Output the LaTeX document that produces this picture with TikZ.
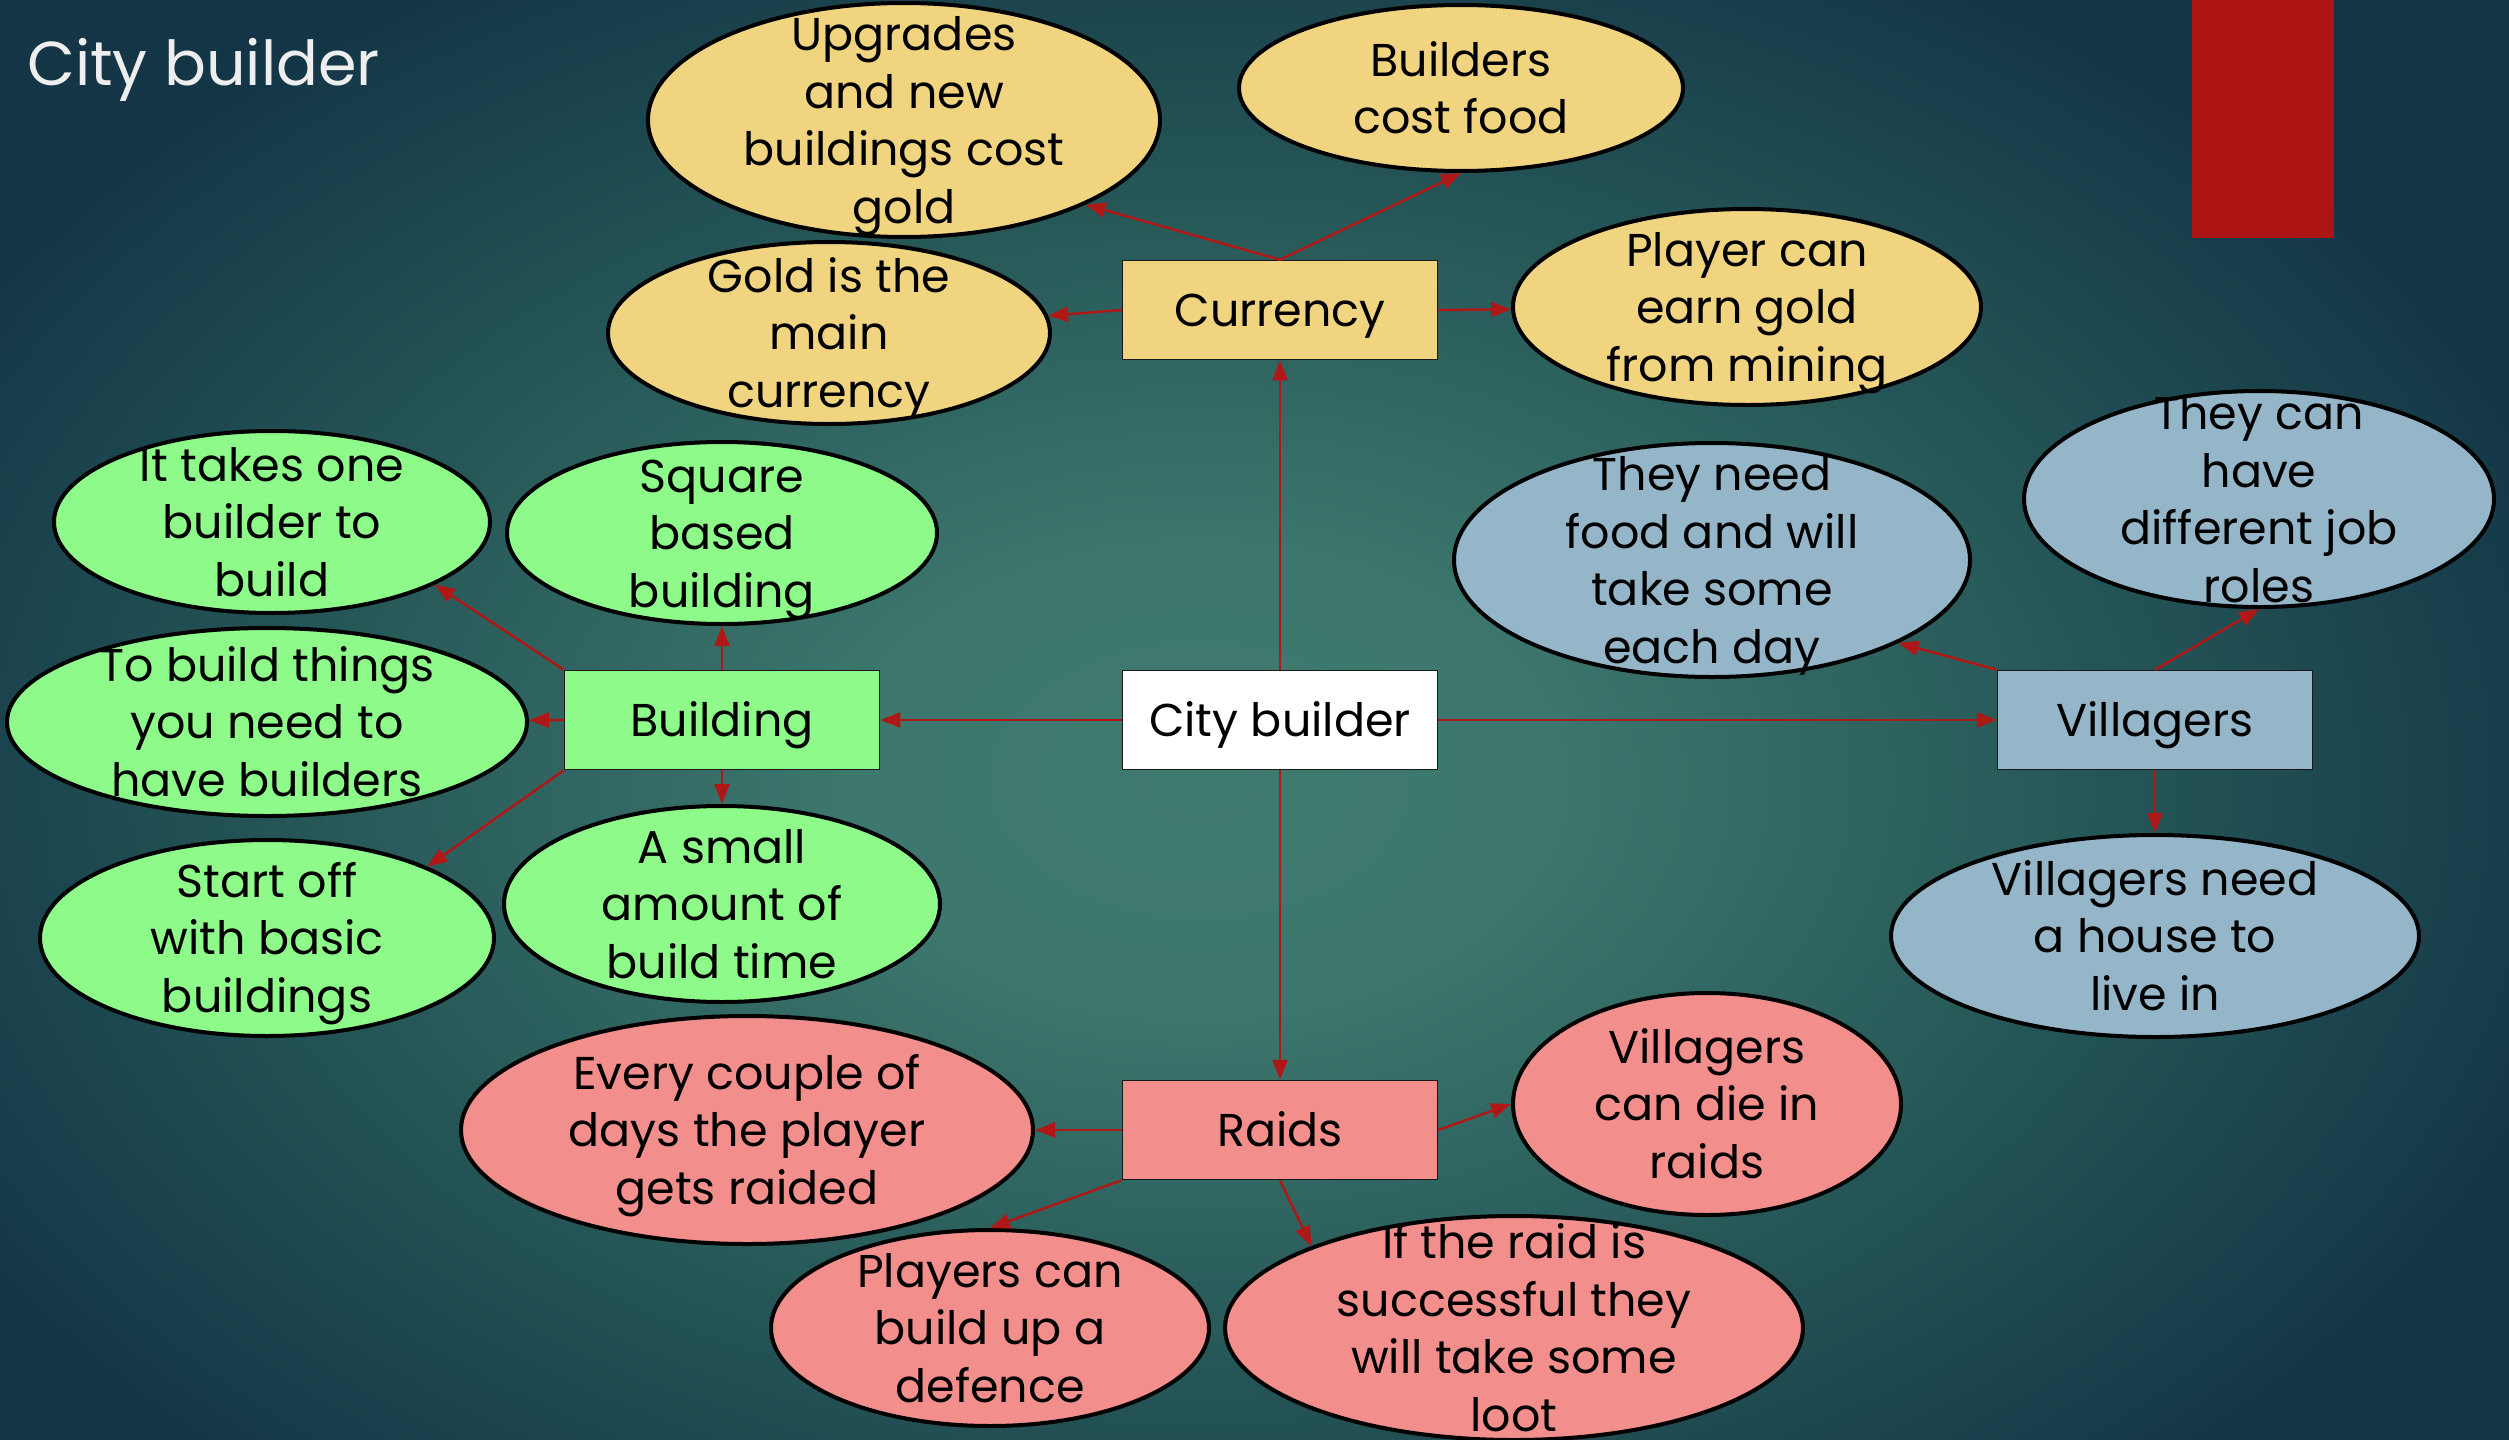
\documentclass[tikz,border=0pt]{standalone}
\usepackage{fontspec}
\setmainfont{Poppins}
\usetikzlibrary{shapes.geometric,arrows.meta}
\definecolor{bgdark}{HTML}{133546}
\definecolor{bgmid}{HTML}{265858}
\definecolor{bglight}{HTML}{3F7A6F}
\definecolor{cyel}{HTML}{F0D480}
\definecolor{cgrn}{HTML}{8EFA8A}
\definecolor{cblu}{HTML}{94B6C8}
\definecolor{cpnk}{HTML}{F28F8C}
\definecolor{arrred}{HTML}{B01818}
\definecolor{barred}{HTML}{AD1515}
\definecolor{titlecol}{HTML}{EEEEEE}
\pgfdeclareradialshading{bgshade}{\pgfpoint{0bp}{0bp}}{color(0bp)=(bglight); color(6bp)=(bglight!90!bgmid); color(15bp)=(bgmid); color(25bp)=(bgdark); color(50bp)=(bgdark)}
\newcommand\etxt[1]{\raisebox{-0.25em}[0pt][0pt]{\makebox[0pt]{\begin{tabular}{@{}c@{}}#1\end{tabular}}}}
\newcommand\bodyfont{\fontsize{46pt}{57.6pt}\selectfont}
\tikzset{
  box/.style={rectangle, draw=black!90, line width=1.5pt, minimum width=315pt, minimum height=99pt, inner sep=0pt, font=\bodyfont, text height=32pt, text depth=0pt},
  ell/.style={ellipse, draw=black, line width=4pt, inner sep=0pt, font=\bodyfont},
  conn/.style={draw=arrred, line width=2.5pt, -{Triangle[length=20pt,width=15pt]}},
}
\begin{document}
\begin{tikzpicture}[x=1pt,y=-1pt]
\useasboundingbox (0,0) rectangle (2509,1440);
\begin{scope}
\clip (0,0) rectangle (2509,1440);
\shade[shading=bgshade] (-250,-170) rectangle (2650,1730);
\end{scope}
% red bar
\fill[barred] (2192,0) rectangle (2334,238);
% title
\node[anchor=west, inner sep=0pt, text=titlecol, font=\fontsize{62pt}{70pt}\selectfont] (title) at (27,70) {City builder};

% boxes
\node[box, fill=white] (cb) at (1280,720) {City builder};
\node[box, fill=cyel] (cur) at (1280,310) {Currency};
\node[box, fill=cgrn] (bld) at (722,720) {Building};
\node[box, fill=cblu] (vil) at (2155,720) {Villagers};
\node[box, fill=cpnk] (rai) at (1280,1130) {Raids};

% yellow
\node[ell, fill=cyel, minimum width=512pt, minimum height=234pt] (upg) at (904,120) {\etxt{Upgrades\\and new\\buildings cost\\gold}};
\node[ell, fill=cyel, minimum width=444pt, minimum height=166pt] (bcf) at (1461,88) {\etxt{Builders\\cost food}};
\node[ell, fill=cyel, minimum width=442pt, minimum height=182pt] (gold) at (829,333) {\etxt{Gold is the\\main\\currency}};
\node[ell, fill=cyel, minimum width=468pt, minimum height=196pt] (earn) at (1747,307) {\etxt{Player can\\earn gold\\from mining}};
% green
\node[ell, fill=cgrn, minimum width=436pt, minimum height=182pt] (one) at (272,522) {\etxt{It takes one\\builder to\\build}};
\node[ell, fill=cgrn, minimum width=430pt, minimum height=182pt] (sq) at (722,533) {\etxt{Square\\based\\building}};
\node[ell, fill=cgrn, minimum width=520pt, minimum height=188pt] (need) at (267,722) {\etxt{To build things\\you need to\\have builders}};
\node[ell, fill=cgrn, minimum width=454pt, minimum height=196pt] (start) at (267,938) {\etxt{Start off\\with basic\\buildings}};
\node[ell, fill=cgrn, minimum width=436pt, minimum height=196pt] (small) at (722,904) {\etxt{A small\\amount of\\build time}};
% blue
\node[ell, fill=cblu, minimum width=516pt, minimum height=234pt] (food) at (1712,560) {\etxt{They need\\food and will\\take some\\each day}};
\node[ell, fill=cblu, minimum width=470pt, minimum height=216pt] (jobs) at (2259,499) {\etxt{They can\\have\\different job\\roles}};
\node[ell, fill=cblu, minimum width=528pt, minimum height=202pt] (house) at (2155,936) {\etxt{Villagers need\\a house to\\live in}};
% pink
\node[ell, fill=cpnk, minimum width=572pt, minimum height=228pt] (every) at (747,1130) {\etxt{Every couple of\\days the player\\gets raided}};
\node[ell, fill=cpnk, minimum width=388pt, minimum height=222pt] (die) at (1707,1104) {\etxt{Villagers\\can die in\\raids}};
\node[ell, fill=cpnk, minimum width=438pt, minimum height=196pt] (def) at (990,1328) {\etxt{Players can\\build up a\\defence}};
\node[ell, fill=cpnk, minimum width=578pt, minimum height=224pt] (loot) at (1514,1328) {\etxt{If the raid is\\successful they\\will take some\\loot}};

% connectors
\draw[conn] (cb.north) -- (cur.south);
\draw[conn] (cb.west) -- (bld.east);
\draw[conn] (cb.east) -- (vil.west);
\draw[conn] (cb.south) -- (rai.north);

\draw[conn] (cur.north) -- (upg.-25);
\draw[conn] (cur.north) -- (bcf.south);
\draw[conn] (cur.west) -- (gold);
\draw[conn] (cur.east) -- (earn);

\draw[conn] (bld.north west) -- (one.-21.5);
\draw[conn] (bld.north) -- (sq.south);
\draw[conn] (bld.west) -- (need);
\draw[conn] (bld.south west) -- (start.24);
\draw[conn] (bld.south) -- (small.north);

\draw[conn] (vil.north west) -- (food.-24);
\draw[conn] (vil.north) -- (jobs.south);
\draw[conn] (vil.south) -- (house.north);

\draw[conn] (rai.west) -- (every);
\draw[conn] (rai.east) -- (die.west);
\draw[conn] (rai.south west) -- (def.north);
\draw[conn] (rai.south) -- (loot.158);
\end{tikzpicture}
\end{document}
